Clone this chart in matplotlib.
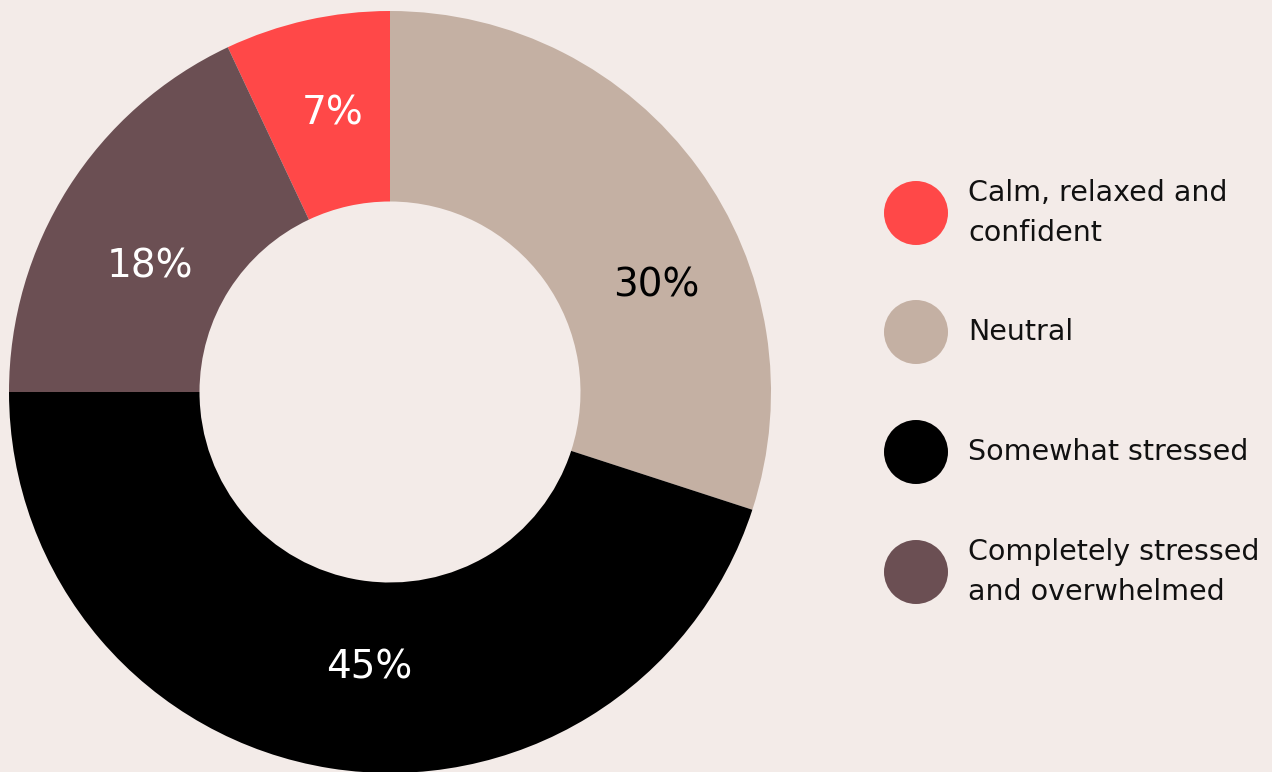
import matplotlib
matplotlib.use("Agg")
import matplotlib.pyplot as plt
from matplotlib.patches import Circle

# survey answers, in legend order
labels = ["Calm, relaxed and\nconfident", "Neutral", "Somewhat stressed",
          "Completely stressed\nand overwhelmed"]
shares = [7, 30, 45, 18]
colors = ["#ff4848", "#c4b0a3", "#000000", "#6b4f53"]
label_colors = ["white", "black", "white", "white"]

bg = "#f3ebe8"
plt.rcParams["font.family"] = ["DejaVu Sans"]

fig = plt.figure(figsize=(12.72, 7.72), dpi=100, facecolor=bg)
W, H = 1272, 772

# donut, starting so that "Neutral" begins at 12 o'clock
ax = fig.add_axes([9 / W, -1 / H, 762 / W, 762 / H])
ax.set_facecolor(bg)
start = 90 + shares[0] / sum(shares) * 360
wedges, texts, pcts = ax.pie(shares, colors=colors, startangle=start,
                             counterclock=False, radius=1,
                             wedgeprops=dict(width=0.5, linewidth=0),
                             autopct="%d%%", pctdistance=0.74)
# small nudges so the numbers sit where they look best
offsets = [(0.01, 0.008), (0.1, -0.155), (0.06, 0.008), (-0.005, -0.066)]
for t, c, (dx, dy) in zip(pcts, label_colors, offsets):
    x, y = t.get_position()
    t.set_position((x + dx, y + dy))
    t.set_color(c)
    t.set_fontsize(28)
ax.set_xlim(-1, 1)
ax.set_ylim(-1, 1)
ax.set_aspect("equal")
ax.axis("off")

# legend drawn by hand: dots and text
lax = fig.add_axes([0, 0, 1, 1])
lax.set_xlim(0, W)
lax.set_ylim(H, 0)
lax.axis("off")
rows_y = [213, 332, 452, 572]
for yy, lab, col in zip(rows_y, labels, colors):
    lax.add_patch(Circle((916, yy), 32, color=col, lw=0))
    lax.text(968, yy, lab, fontsize=20.5, va="center", ha="left",
             linespacing=1.55, color="#111111")

fig.savefig("out.png", dpi=100, facecolor=bg)
